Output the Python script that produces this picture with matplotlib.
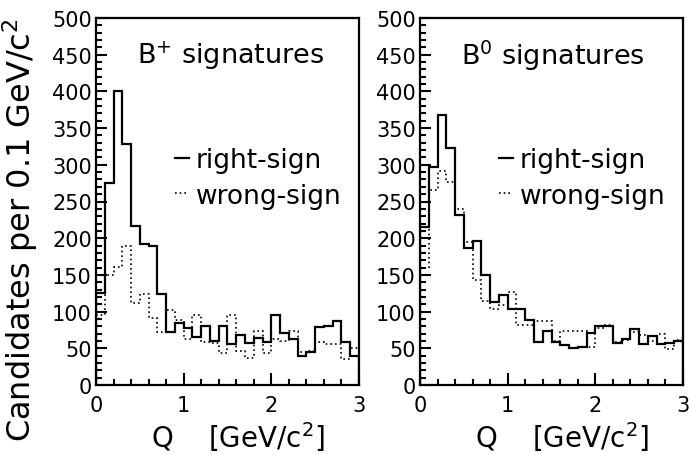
import matplotlib
matplotlib.use("Agg")
import matplotlib.pyplot as plt
import numpy as np

# Q histogram, 30 bins of 0.1 GeV/c^2 from 0 to 3
q_edges = np.round(np.arange(31) * 0.1, 1)

# B+ signatures
bplus_right = [125, 275, 400, 329, 216, 192, 190, 124, 72, 84,
               78, 65, 80, 60, 80, 56, 68, 57, 64, 59,
               96, 71, 62, 40, 45, 79, 80, 87, 59, 40]
bplus_wrong = [95, 150, 161, 190, 112, 124, 91, 72, 102, 88,
               63, 96, 58, 57, 44, 95, 47, 37, 73, 43,
               62, 60, 73, 45, 46, 59, 56, 56, 36, 50]

# B0 signatures
bzero_right = [215, 297, 368, 323, 232, 187, 196, 150, 113, 123,
               104, 104, 89, 58, 73, 59, 55, 51, 52, 71,
               81, 81, 57, 62, 76, 56, 67, 56, 57, 60]
bzero_wrong = [160, 266, 292, 277, 240, 195, 143, 115, 104, 109,
               127, 82, 82, 87, 87, 60, 73, 73, 73, 52,
               78, 82, 59, 61, 72, 68, 60, 70, 49, 61]

panels = [
    ("B$^{+}$ signatures", bplus_right, bplus_wrong),
    ("B$^{0}$ signatures", bzero_right, bzero_wrong),
]

plt.rcParams['font.family'] = ['DejaVu Sans']
plt.rcParams['mathtext.fontset'] = 'dejavusans'

W, H = 689, 456
fig = plt.figure(figsize=(W / 100, H / 100), dpi=100)

ax_left_px = [96, 420]
ax_w_px = 263
ax_top_px, ax_bot_px = 19, 386

for i, (title, right, wrong) in enumerate(panels):
    ax = fig.add_axes([ax_left_px[i] / W, 1 - ax_bot_px / H,
                       ax_w_px / W, (ax_bot_px - ax_top_px) / H])
    ax.stairs(right, q_edges, color='black', linewidth=1.6, label='right-sign')
    ax.stairs(wrong, q_edges, color='black', linewidth=1.2,
              linestyle=(0, (1, 1.8)), label='wrong-sign')

    ax.set_xlim(0, 3)
    ax.set_ylim(0, 500)
    ax.set_xticks([0, 1, 2, 3])
    ax.set_xticks(np.arange(0, 3.01, 0.2), minor=True)
    ax.set_yticks(np.arange(0, 501, 50))
    ax.set_yticks(np.arange(0, 501, 10), minor=True)
    ax.tick_params(which='both', direction='in', top=False, right=False,
                   width=1.5, labelsize=15)
    ax.tick_params(axis='x', which='major', length=9, pad=7)
    ax.tick_params(axis='x', which='minor', length=4)
    ax.tick_params(axis='y', which='major', length=8, pad=3)
    ax.tick_params(axis='y', which='minor', length=4.5)
    for sp in ax.spines.values():
        sp.set_linewidth(1.6)

    ax.text(0.155, 450, title, fontsize=19.5, va='center', ha='left',
            transform=ax.get_yaxis_transform())
    ax.legend(loc='center left', bbox_to_anchor=(0.26, 0.565), frameon=False,
              fontsize=19, handlelength=0.55, handletextpad=0.25,
              labelspacing=0.37, borderaxespad=0)

    ax.set_xlabel("Q    [GeV/c$^{2}$]", fontsize=20, x=0.54, labelpad=3)

fig.text(20 / W, 1 - 230 / H, "Candidates per 0.1 GeV/c$^{2}$", fontsize=23,
         rotation=90, ha='center', va='center')

fig.savefig("out.png", dpi=100)
